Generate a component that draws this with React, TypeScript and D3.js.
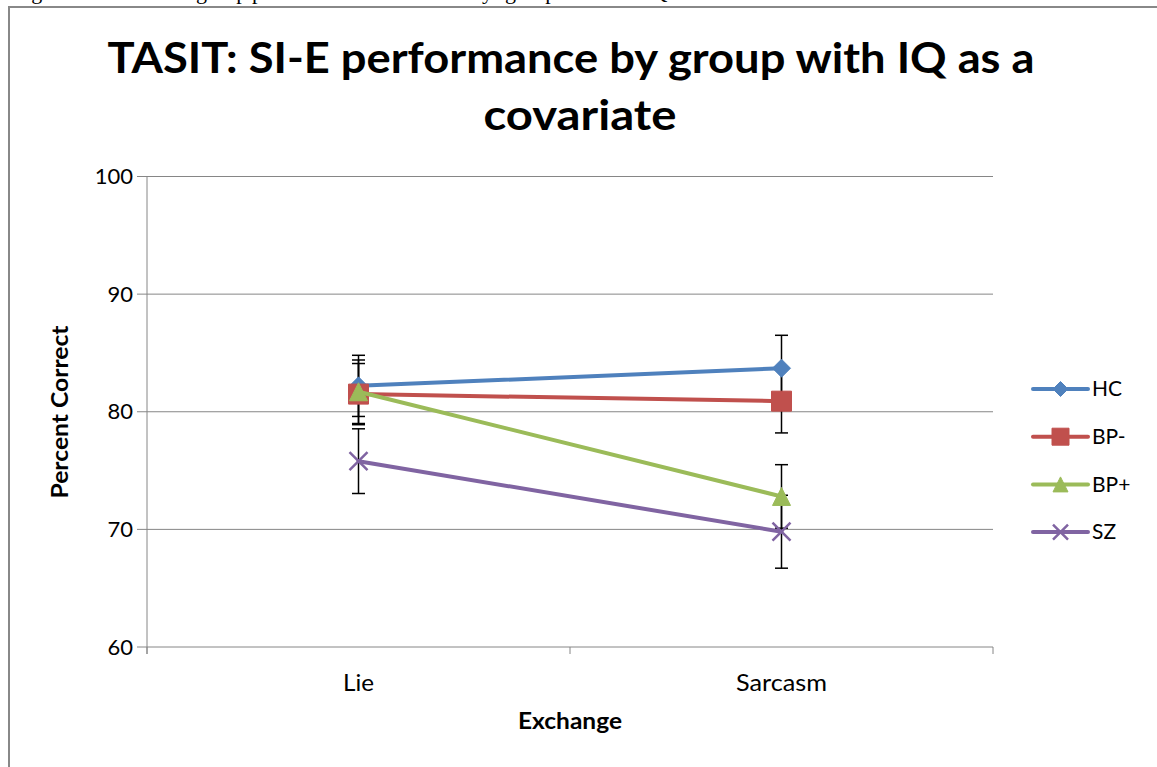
import React from "react";
import * as d3 from "d3";

const categories = ["Lie", "Sarcasm"];
const seriesNames = ["HC", "BP-", "BP+", "SZ"];
const seriesColors = ["#4F81BD", "#C0504D", "#9BBB59", "#8064A2"];
const seriesMarkers = ["diamond", "square", "triangle", "x"];
const hcValues = [82.2, 83.7];
const bpMinusValues = [81.5, 80.9];
const bpPlusValues = [81.7, 72.8];
const szValues = [75.8, 69.8];
const hcErrors = [2.6, 2.8];
const bpMinusErrors = [2.6, 2.7];
const bpPlusErrors = [2.7, 2.7];
const szErrors = [2.75, 3.1];
const yTicks = [60, 70, 80, 90, 100];

const seriesValues = [hcValues, bpMinusValues, bpPlusValues, szValues];
const seriesErrors = [hcErrors, bpMinusErrors, bpPlusErrors, szErrors];

const W = 1157;
const H = 767;
const plotLeft = 147;
const plotRight = 993;
const plotTop = 176.5;
const plotBottom = 647;
const FONT = "Lato, 'Open Sans', sans-serif";

function markerPath(kind: string, s: number): string {
  const h = s / 2;
  if (kind === "diamond") return `M0,${-h}L${h},0L0,${h}L${-h},0Z`;
  if (kind === "square") return `M${-h},${-h}H${h}V${h}H${-h}Z`;
  if (kind === "triangle") return `M0,${-h}L${h},${h}H${-h}Z`;
  return `M${-h},${-h}L${h},${h}M${h},${-h}L${-h},${h}`;
}

function Marker({ kind, color, size }: { kind: string; color: string; size: number }) {
  if (kind === "x") {
    return <path d={markerPath(kind, size)} stroke={color} strokeWidth={2.5} fill="none" />;
  }
  return <path d={markerPath(kind, size)} fill={color} stroke={color} strokeWidth={1} />;
}

export default function App() {
  const x = d3.scaleBand<string>().domain(categories).range([plotLeft, plotRight]).padding(0);
  const y = d3.scaleLinear().domain([60, 100]).range([plotBottom, plotTop]);
  const cx = (c: string) => (x(c) as number) + x.bandwidth() / 2;
  const line = d3
    .line<number>()
    .x((_, i) => cx(categories[i]))
    .y((v) => y(v));

  const captionWords: [string, number][] = [
    ["Figure 3. Mean", 13],
    ["group", 196],
    ["performance on TASIT", 252],
    ["by", 471],
    ["group", 505],
    ["with FSIQ as a covariate", 575],
  ];

  const legendX = 1033;
  const legendY0 = 389;
  const legendStep = 47.7;
  const catLengths = [31, 91];

  return (
    <svg
      width={W}
      height={H}
      style={{ position: "absolute", left: 0, top: 0, background: "#fff" }}
    >
      {captionWords.map(([w, xx], i) => (
        <text key={i} x={xx} y={-1} fontFamily="'Liberation Serif', 'Times New Roman', serif" fontSize={22} fill="#000">
          {w}
        </text>
      ))}
      <rect x={9} y={7} width={W + 20} height={H + 20} fill="#fff" stroke="#888" strokeWidth={2} />

      <text
        x={571}
        y={73}
        textAnchor="middle"
        fontFamily={FONT}
        fontWeight="bold"
        fontSize={42}
        textLength={927}
        lengthAdjust="spacingAndGlyphs"
        fill="#000"
      >
        TASIT: SI-E performance by group with IQ as a
      </text>
      <text
        x={580}
        y={130}
        textAnchor="middle"
        fontFamily={FONT}
        fontWeight="bold"
        fontSize={42}
        textLength={193}
        lengthAdjust="spacingAndGlyphs"
        fill="#000"
      >
        covariate
      </text>

      {yTicks.map((t) => (
        <g key={t}>
          <line x1={plotLeft - 10} x2={plotRight} y1={y(t)} y2={y(t)} stroke="#868686" strokeWidth={1} />
          <text
            x={133}
            y={y(t)}
            dy="0.35em"
            textAnchor="end"
            fontFamily={FONT}
            fontSize={22}
            fill="#000"
          >
            {t}
          </text>
        </g>
      ))}
      <line x1={plotLeft} x2={plotLeft} y1={plotTop} y2={plotBottom + 7} stroke="#868686" strokeWidth={1} />
      {[plotLeft, ...categories.map((c) => (x(c) as number) + x.bandwidth())].map((tx, i) => (
        <line key={i} x1={tx} x2={tx} y1={plotBottom} y2={plotBottom + 7} stroke="#868686" strokeWidth={1} />
      ))}
      {categories.map((c, i) => (
        <text
          key={c}
          x={cx(c)}
          y={691}
          textAnchor="middle"
          fontFamily={FONT}
          fontSize={23}
          textLength={catLengths[i]}
          lengthAdjust="spacingAndGlyphs"
          fill="#000"
        >
          {c}
        </text>
      ))}
      <text
        x={570}
        y={729}
        textAnchor="middle"
        fontFamily={FONT}
        fontWeight="bold"
        fontSize={22}
        textLength={104}
        lengthAdjust="spacingAndGlyphs"
        fill="#000"
      >
        Exchange
      </text>
      <text
        transform={`translate(68,412) rotate(-90)`}
        textAnchor="middle"
        fontFamily={FONT}
        fontWeight="bold"
        fontSize={22}
        textLength={173}
        lengthAdjust="spacingAndGlyphs"
        fill="#000"
      >
        Percent Correct
      </text>

      {seriesNames.map((name, si) => {
        const vals = seriesValues[si];
        const errs = seriesErrors[si];
        return (
          <g key={name}>
            {vals.map((v, i) => {
              const px = cx(categories[i]);
              return (
                <g key={i}>
                  <line x1={px} x2={px} y1={y(v + errs[i])} y2={y(v - errs[i])} stroke="#000" strokeWidth={1.5} />
                  <line x1={px - 6.5} x2={px + 6.5} y1={y(v + errs[i])} y2={y(v + errs[i])} stroke="#000" strokeWidth={1.5} />
                  <line x1={px - 6.5} x2={px + 6.5} y1={y(v - errs[i])} y2={y(v - errs[i])} stroke="#000" strokeWidth={1.5} />
                </g>
              );
            })}
          </g>
        );
      })}
      {seriesNames.map((name, si) => {
        const vals = seriesValues[si];
        return (
          <g key={name}>
            <path d={line(vals) || ""} fill="none" stroke={seriesColors[si]} strokeWidth={4} strokeLinecap="round" />
            {vals.map((v, i) => (
              <g key={i} transform={`translate(${cx(categories[i])},${y(v)})`}>
                <Marker kind={seriesMarkers[si]} color={seriesColors[si]} size={si === 1 ? 20 : 18} />
              </g>
            ))}
          </g>
        );
      })}

      {seriesNames.map((name, si) => {
        const ly = legendY0 + si * legendStep;
        return (
          <g key={name}>
            <line x1={legendX} x2={legendX + 55} y1={ly} y2={ly} stroke={seriesColors[si]} strokeWidth={4} strokeLinecap="round" />
            <g transform={`translate(${legendX + 27.5},${ly})`}>
              <Marker kind={seriesMarkers[si]} color={seriesColors[si]} size={si === 1 ? 17 : 15} />
            </g>
            <text x={legendX + 59} y={ly} dy="0.35em" fontFamily={FONT} fontSize={21} fill="#000">
              {name}
            </text>
          </g>
        );
      })}
    </svg>
  );
}
